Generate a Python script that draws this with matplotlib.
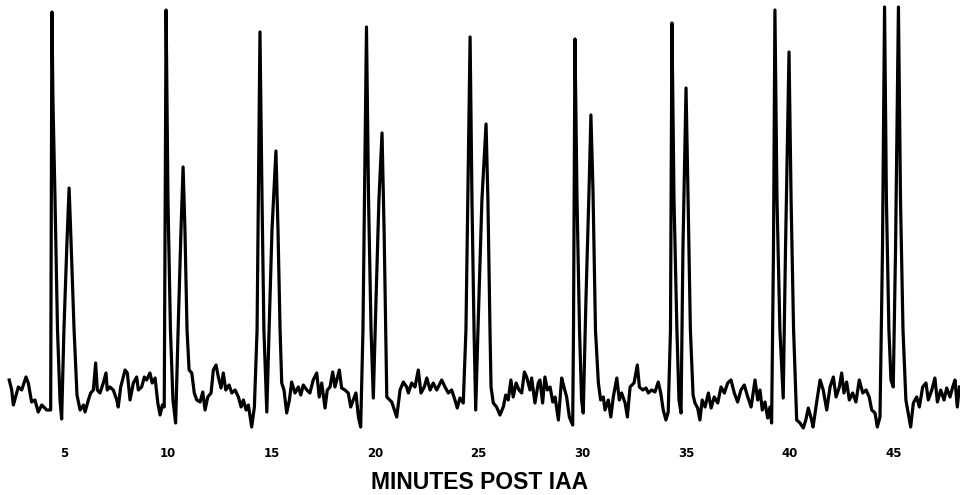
import matplotlib
matplotlib.use("Agg")
import matplotlib.pyplot as plt

# detector trace (minutes, arbitrary response units)
minutes = [
    2.34, 2.46, 2.54, 2.70, 2.78, 2.94, 3.02, 3.15, 3.26, 3.42, 3.58, 3.74, 3.91, 4.15, 4.34,
    4.40, 4.45, 4.55, 4.67, 4.79, 4.87,
    4.98, 5.13, 5.23, 5.32, 5.47, 5.61,
    5.76, 5.92, 6.00, 6.16, 6.27, 6.40, 6.51, 6.59, 6.72, 6.88, 7.01, 7.07, 7.20, 7.36, 7.53,
    7.60, 7.72, 7.93, 8.04, 8.17, 8.33, 8.49, 8.57, 8.73, 8.86, 8.97, 9.13, 9.24, 9.38, 9.51,
    9.62, 9.73, 9.82,
    9.91, 10.00, 10.12, 10.24, 10.37,
    10.49, 10.63, 10.73, 10.82, 10.92,
    11.02, 11.15, 11.27, 11.39, 11.55, 11.68, 11.79, 11.92, 12.08, 12.19, 12.32, 12.43, 12.56,
    12.67, 12.79, 12.95, 13.08, 13.24, 13.40, 13.53, 13.64, 13.77, 13.88, 14.04, 14.17, 14.30,
    14.44, 14.54, 14.63, 14.77,
    14.88, 15.02, 15.21, 15.31, 15.41,
    15.49, 15.60, 15.73, 15.86, 15.97, 16.13, 16.29, 16.41, 16.53, 16.70, 16.85, 17.01, 17.18,
    17.30, 17.42, 17.58, 17.69, 17.82, 17.95, 18.06, 18.27, 18.38, 18.54, 18.70, 18.82, 18.94,
    19.07, 19.19, 19.30, 19.41,
    19.58, 19.68, 19.80, 19.91,
    20.04, 20.18, 20.33, 20.43, 20.56,
    20.80, 21.04, 21.20, 21.36, 21.52, 21.60, 21.76, 21.92, 22.08, 22.21, 22.37, 22.49, 22.65,
    22.80, 22.97, 23.21, 23.37, 23.53, 23.69, 23.85, 23.96, 24.09, 24.25, 24.38,
    24.58, 24.67, 24.77, 24.85,
    24.96, 25.15, 25.35, 25.44, 25.54,
    25.59, 25.70, 25.86, 26.02, 26.18, 26.30, 26.42, 26.55, 26.66, 26.80, 26.94, 27.07, 27.20,
    27.31, 27.47, 27.55, 27.71, 27.87, 27.95, 28.08, 28.19, 28.31, 28.44, 28.57, 28.68, 28.84,
    29.00, 29.11, 29.24, 29.37, 29.53, 29.57,
    29.64, 29.74, 29.86, 29.96, 30.04,
    30.17, 30.32, 30.41, 30.51, 30.63,
    30.77, 30.88, 31.01, 31.09, 31.25, 31.37, 31.49, 31.66, 31.78, 31.89, 32.06, 32.17, 32.30,
    32.49, 32.65, 32.75, 32.91, 33.07, 33.18, 33.34, 33.50, 33.66, 33.78, 33.90, 34.03, 34.14,
    34.25,
    34.32, 34.42, 34.56, 34.66, 34.76,
    34.85, 35.00, 35.10, 35.21, 35.34,
    35.43, 35.56, 35.67, 35.78, 35.92, 36.08, 36.21, 36.36, 36.53, 36.69, 36.85, 37.01, 37.17,
    37.33, 37.49, 37.65, 37.81, 37.98, 38.14, 38.33, 38.46, 38.57, 38.68, 38.81, 38.94, 39.05,
    39.13, 39.22,
    39.29, 39.39, 39.53, 39.69,
    39.80, 39.97, 40.07, 40.19,
    40.34, 40.50, 40.66, 40.78, 40.90, 41.06, 41.13, 41.32, 41.47, 41.62, 41.79, 41.95, 42.11,
    42.24, 42.40, 42.51, 42.62, 42.75, 42.88, 43.04, 43.20, 43.36, 43.53, 43.69, 43.84, 43.96,
    44.12, 44.23, 44.36, 44.48,
    44.58, 44.67, 44.79, 44.89, 45.00,
    45.11, 45.25, 45.35, 45.47, 45.61,
    45.84, 45.97, 46.13, 46.26, 46.42, 46.58, 46.69, 46.86, 47.01, 47.13, 47.29, 47.45, 47.58,
    47.74, 47.87, 47.98, 48.09, 48.19,
]
response = [
    50, 40, 25, 37, 43, 40, 45, 53, 47, 28, 30, 18, 25, 20, 20,
    418, 330, 230, 100, 30, 11,
    100, 190, 242, 190, 100, 35,
    20, 25, 18, 30, 37, 40, 67, 40, 37, 47, 57, 40, 43, 40, 30,
    23, 43, 60, 57, 30, 47, 53, 40, 43, 53, 50, 57, 47, 52, 27,
    15, 25, 23,
    420, 230, 100, 30, 7,
    100, 200, 263, 200, 100,
    60, 57, 37, 30, 28, 38, 20, 33, 37, 60, 65, 53, 42,
    57, 40, 45, 37, 40, 33, 23, 30, 20, 25, 3, 23, 100,
    398, 230, 100, 18,
    100, 200, 279, 200, 100,
    47, 40, 17, 30, 48, 37, 43, 35, 45, 40, 37, 50, 57,
    33, 47, 22, 40, 43, 58, 43, 60, 42, 40, 37, 23, 30,
    37, 13, 3, 100,
    403, 230, 100, 32,
    130, 230, 297, 200, 33,
    28, 13, 40, 48, 43, 37, 47, 43, 60, 37, 43, 52, 40,
    47, 40, 50, 43, 37, 40, 30, 22, 32, 27, 100,
    393, 230, 100, 20,
    100, 230, 306, 230, 100,
    43, 27, 23, 15, 23, 35, 30, 50, 33, 47, 40, 37, 58,
    53, 40, 52, 27, 47, 50, 27, 53, 40, 43, 28, 33, 10,
    52, 43, 33, 13, 5, 100,
    391, 230, 100, 30, 17,
    130, 240, 315, 240, 100,
    47, 30, 33, 20, 30, 13, 33, 52, 30, 37, 27, 13, 43,
    47, 65, 43, 40, 42, 37, 40, 38, 48, 37, 20, 10, 18,
    100,
    407, 230, 100, 30, 17,
    180, 342, 230, 100, 35,
    27, 22, 10, 30, 23, 37, 22, 33, 27, 43, 37, 47, 50,
    37, 28, 40, 45, 33, 23, 50, 30, 40, 20, 28, 12, 23,
    7, 180,
    420, 230, 100, 32,
    180, 378, 230, 100,
    10, 7, 2, 10, 22, 10, 3, 30, 50, 40, 20, 43, 53,
    33, 43, 57, 37, 48, 30, 37, 28, 50, 37, 40, 33, 20,
    17, 3, 13, 180,
    423, 230, 100, 50, 43,
    180, 423, 230, 100, 30,
    3, 27, 33, 23, 43, 47, 30, 40, 52, 28, 40, 30, 42,
    33, 43, 50, 23, 43,
]

tick_minutes = [5, 10, 15, 20, 25, 30, 35, 40, 45]
tick_labels = [str(t) for t in tick_minutes]
x_title = "MINUTES POST IAA"

fig = plt.figure(figsize=(9.6, 4.95), dpi=100)
ax = fig.add_axes([0, 1 - 430 / 495, 1, 430 / 495])

ax.plot(minutes, response, color="black", lw=2.3, solid_joinstyle="round", clip_on=False)

ax.set_xlim(1.895, 48.221)
ax.set_ylim(0, 430)

ax.set_xticks(tick_minutes)
ax.set_xticklabels(tick_labels, fontsize=8.5, fontweight="bold", family="DejaVu Sans")
ax.tick_params(axis="x", length=0, pad=12)
ax.set_yticks([])
for s in ax.spines.values():
    s.set_visible(False)

fig.text(0.5, 6 / 495, x_title, ha="center", va="baseline",
         fontsize=16.5, fontweight="bold", family="Liberation Sans")

fig.savefig("out.png", dpi=100)
